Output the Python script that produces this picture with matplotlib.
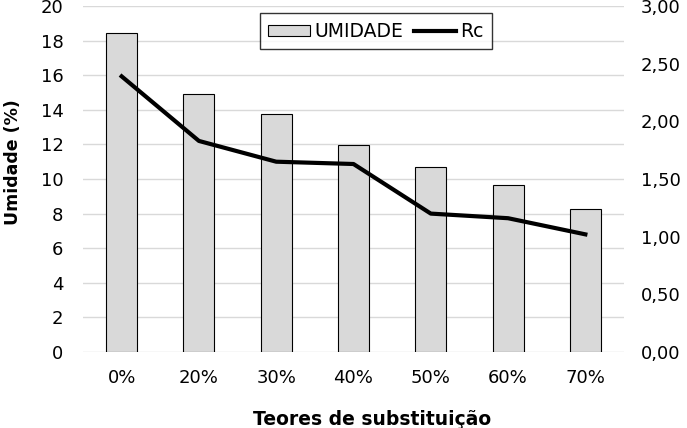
import matplotlib
matplotlib.use("Agg")
import matplotlib.pyplot as plt
from matplotlib.ticker import FuncFormatter

categories = ["0%", "20%", "30%", "40%", "50%", "60%", "70%"]
umidade = [18.45, 14.9, 13.75, 11.97, 10.69, 9.65, 8.27]
rc = [2.39, 1.83, 1.65, 1.63, 1.20, 1.16, 1.02]

plt.rcParams['font.family'] = ['DejaVu Sans']

fig = plt.figure(figsize=(6.87, 4.28), dpi=100)
ax = fig.add_axes([83 / 687, 1 - 352 / 428, 541 / 687, 346 / 428])
ax2 = ax.twinx()

x = range(len(categories))
bars = ax.bar(x, umidade, width=0.4, color="#d9d9d9", edgecolor="black",
              linewidth=0.8, label="UMIDADE", zorder=2)
line, = ax2.plot(x, rc, color="black", linewidth=3, label="Rc", zorder=3)

ax.set_xlim(-0.5, len(categories) - 0.5)
ax.set_ylim(0, 20)
ax.set_yticks(range(0, 21, 2))
ax2.set_ylim(0, 3)
ax2.set_yticks([i * 0.5 for i in range(7)])
ax2.yaxis.set_major_formatter(FuncFormatter(lambda v, p: f"{v:.2f}".replace(".", ",")))

ax.set_xticks(list(x))
ax.set_xticklabels(categories)
ax.grid(axis="y", color="#d9d9d9", linewidth=1, zorder=0)
ax.set_axisbelow(True)

for a in (ax, ax2):
    for s in a.spines.values():
        s.set_visible(False)
    a.tick_params(length=0, labelsize=13, colors="#000000")
ax.tick_params(axis="y", pad=14)
ax.tick_params(axis="x", pad=12)
ax2.tick_params(axis="y", pad=12)

ax.set_ylabel("Umidade (%)", fontsize=12.5, fontweight="bold")
ax.yaxis.set_label_coords(-61 / 541, 0.55)
ax.set_xlabel("Teores de substituição", fontsize=13.5, fontweight="bold")
ax.xaxis.set_label_coords(0.535, -58 / 346)

leg = fig.legend([bars, line], ["UMIDADE", "Rc"], loc="upper center",
                 bbox_to_anchor=(376 / 687, 1 - 4 / 428), ncol=2, frameon=True,
                 fancybox=False, edgecolor="black", fontsize=13.5,
                 handlelength=2.2, handleheight=0.55, columnspacing=0.6,
                 handletextpad=0.25, borderpad=0.45)
leg.get_frame().set_linewidth(1)

fig.savefig("out.png", dpi=100)
